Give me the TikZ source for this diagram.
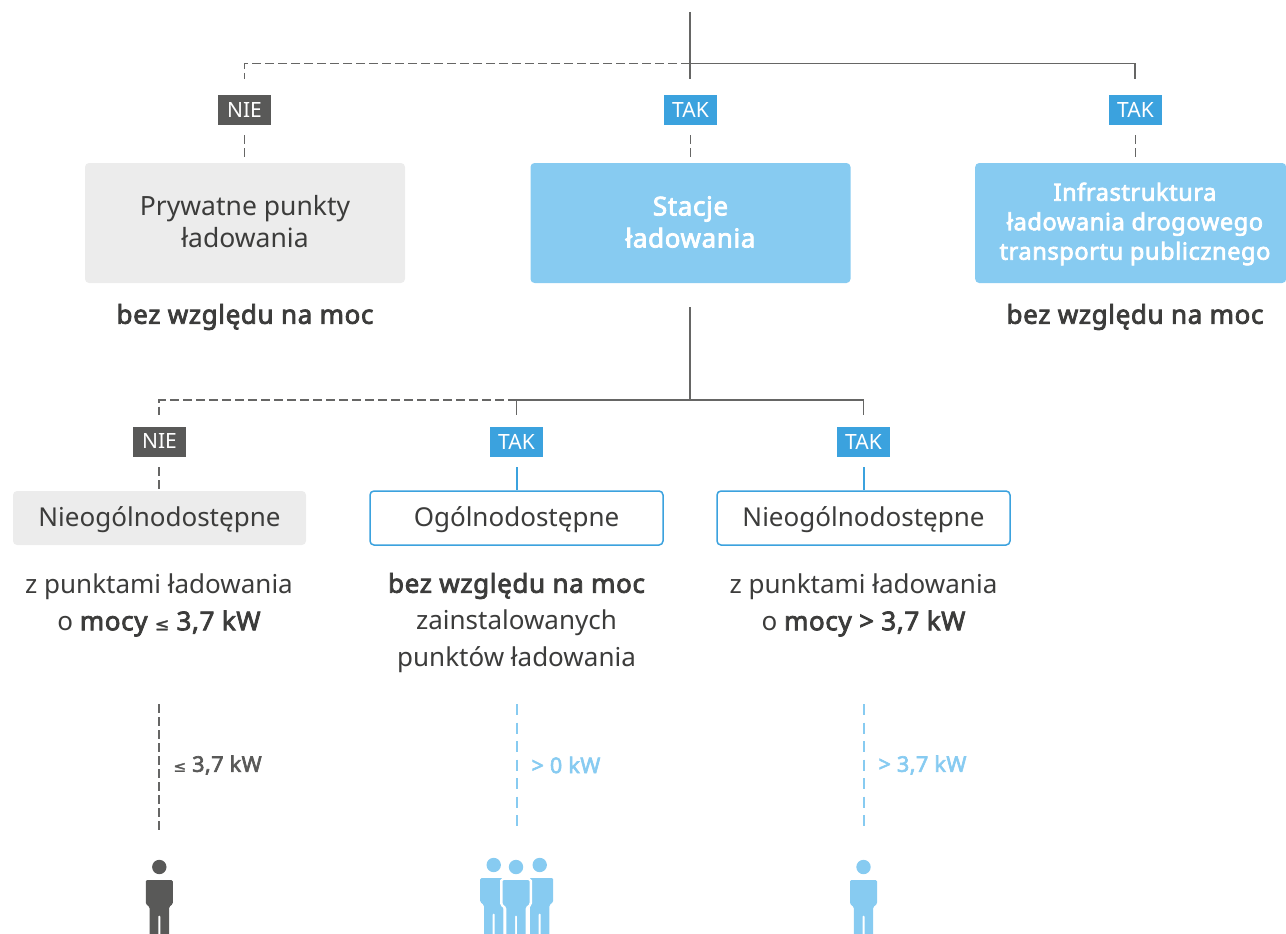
\documentclass[tikz,border=0pt]{standalone}
\usepackage{fontspec}
\setmainfont{Noto Sans}
\newfontfamily\medfont[FakeBold=3,LetterSpace=2.4]{Noto Sans}
\newfontfamily\symfont[FakeBold=2]{DejaVu Sans}
\newcommand\lesym[1]{{\symfont\fontsize{#1}{#1}\selectfont ≤}}
\definecolor{lblue}{HTML}{87CBF1}
\definecolor{dblue}{HTML}{3BA2DE}
\definecolor{dgray}{HTML}{595958}
\definecolor{lgray}{HTML}{ECECEC}
\definecolor{txt}{HTML}{3C3C3B}
\definecolor{linec}{HTML}{666665}
\tikzset{
 tagbox/.style={minimum width=53pt,minimum height=30pt,inner sep=0pt,text=white,font=\fontsize{21}{21}\selectfont},
 tagno/.style={tagbox,fill=dgray},
 tagyes/.style={tagbox,fill=dblue},
 bigbox/.style={minimum width=320pt,minimum height=120pt,inner sep=0pt,rounded corners=4pt,align=center},
 smallbox/.style={minimum width=293pt,minimum height=54pt,inner sep=0pt,text height=21pt,text depth=5pt,rounded corners=4pt,align=center,text=txt,font=\fontsize{26}{26}\selectfont},
 caption/.style={align=center,text=txt,font=\fontsize{26}{37}\selectfont},
 solidl/.style={draw=linec,line width=1.2pt},
 dashl/.style={draw=linec,line width=1.2pt,dash pattern=on 9pt off 4pt},
 dashb/.style={draw=lblue,line width=2pt,dash pattern=on 11pt off 7.5pt},
 power/.style={anchor=west,font=\fontsize{21.5}{21.5}\selectfont\medfont},
 personbody/.pic={
  \path[pic actions] (0,0) circle (7.2pt);
  \path[pic actions,rounded corners=1.3pt] (-13.5,13) -- (13.5,13) -- (13.5,37) -- (9.7,40) -- (9.7,72) -- (1,72) -- (1,48) -- (-1,48) -- (-1,72) -- (-9.7,72) -- (-9.7,40) -- (-13.5,37) -- cycle;
 },
}
\begin{document}
\begin{tikzpicture}[x=1pt,y=-1pt]
\useasboundingbox (0,0) rectangle (1286,934);
% top tree
\coordinate (top) at (690,12);
\coordinate (j1) at (690,63.5);
\coordinate (j1e) at (690,79);
\coordinate (l1) at (244.5,63.5);
\coordinate (l1e) at (244.5,79);
\coordinate (r1) at (1135,63.5);
\coordinate (r1e) at (1135,79);
\node[tagno] (t1) at (244.5,110) {NIE};
\node[tagyes] (t2) at (690.5,110) {TAK};
\node[tagyes] (t3) at (1135.5,110) {TAK};
\node[bigbox,fill=lgray] (b1) at (245,223) {};
\node[bigbox,fill=lblue] (b2) at (690.5,223) {};
\node[minimum width=311pt,minimum height=120pt,inner sep=0pt,rounded corners=4pt,fill=lblue,anchor=west] (b3) at (975,223) {};
\node[align=center,text=txt,font=\fontsize{26.5}{32}\selectfont] (b1t) at (245,222) {Prywatne punkty\\ładowania};
\node[align=center,text=white,font=\fontsize{26}{32}\selectfont\medfont] (b2t) at (690.5,222) {Stacje\\ładowania};
\node[align=center,text=white,font=\fontsize{23.6}{29.5}\selectfont\medfont] (b3t) at (1135,224) {Infrastruktura\\ładowania drogowego\\transportu publicznego};
\draw[solidl] (top) -- (j1e);
\draw[solidl] (j1) -- (r1) -- (r1e);
\draw[dashl] (j1) -- (l1) -- (l1e);
\coordinate (d1) at (t1.south |- 0,135);
\coordinate (d2) at (t2.south |- 0,135);
\coordinate (d3) at (t3.south |- 0,135);
\draw[dashl] (d1) -- (d1 |- 0,158);
\draw[dashl] (d2) -- (d2 |- 0,158);
\draw[dashl] (d3) -- (d3 |- 0,158);
\node[caption,font=\fontsize{26}{26}\selectfont\medfont] (c1) at (245,317) {bez względu na moc};
\node[caption,font=\fontsize{26}{26}\selectfont\medfont] (c3) at (1135,317) {bez względu na moc};
% second tree
\coordinate (s0) at (690,307);
\coordinate (s1) at (690,400);
\coordinate (sl) at (159,400);
\coordinate (sle) at (159,415);
\coordinate (sm) at (516.5,400);
\coordinate (sme) at (516.5,415);
\coordinate (sr) at (863.5,400);
\coordinate (sre) at (863.5,415);
\draw[solidl] (s0) -- (s1);
\draw[solidl] (sm) -- (sr) -- (sre);
\draw[solidl] (sm) -- (sme);
\draw[dashl] (sm) -- (sl) -- (sle);
\node[tagno] (t4) at (159.5,441.5) {NIE};
\node[tagyes] (t5) at (516.5,441.5) {TAK};
\node[tagyes] (t6) at (863.5,441.5) {TAK};
\node[smallbox,fill=lgray] (n1) at (159.5,518) {Nieogólnodostępne};
\node[smallbox,draw=dblue,line width=1.5pt,fill=white] (n2) at (516.5,518) {Ogólnodostępne};
\node[smallbox,draw=dblue,line width=1.5pt,fill=white] (n3) at (863.5,518) {Nieogólnodostępne};
\coordinate (e4) at (159,467);
\coordinate (e5) at (516.5,467);
\coordinate (e6) at (863.5,467);
\draw[dashl] (e4) -- (n1.north -| e4);
\draw[draw=dblue,line width=2pt] (e5) -- (n2.north);
\draw[draw=dblue,line width=2pt] (e6) -- (n3.north);
\node[caption] (k1) at (159,605) {z punktami ładowania\\o {\medfont mocy \lesym{17} 3,7 kW}};
\node[caption] (k2) at (516.5,623) {{\medfont bez względu na moc}\\zainstalowanych\\punktów ładowania};
\node[caption] (k3) at (863.5,605) {z punktami ładowania\\o {\medfont mocy > 3,7 kW}};
% power lines
\coordinate (p1a) at (159,704);
\coordinate (p1b) at (159,833);
\coordinate (p2a) at (516.5,704);
\coordinate (p2b) at (516.5,828);
\coordinate (p3a) at (863.5,704);
\coordinate (p3b) at (863.5,828);
\draw[dashl] (p1a) -- (p1b);
\draw[dashb] (p2a) -- (p2b);
\draw[dashb] (p3a) -- (p3b);
\node[power,text=dgray] (w1) at (170,765) {\lesym{15} 3,7 kW};
\node[power,text=lblue] (w2) at (528,765) {> 0 kW};
\node[power,text=lblue] (w3) at (875,765) {> 3,7 kW};
% people
\begin{scope}
\clip (0,0) rectangle (1286,934);
\pic[fill=dgray] at (159.3,867) {personbody};
\pic[fill=lblue] at (493.7,865) {personbody};
\pic[fill=lblue] at (539.7,865) {personbody};
\pic[fill=white,draw=white,line width=5pt] at (516,867) {personbody};
\pic[fill=lblue] at (516,867) {personbody};
\pic[fill=lblue] at (863.5,867) {personbody};
\end{scope}
\end{tikzpicture}
\end{document}
